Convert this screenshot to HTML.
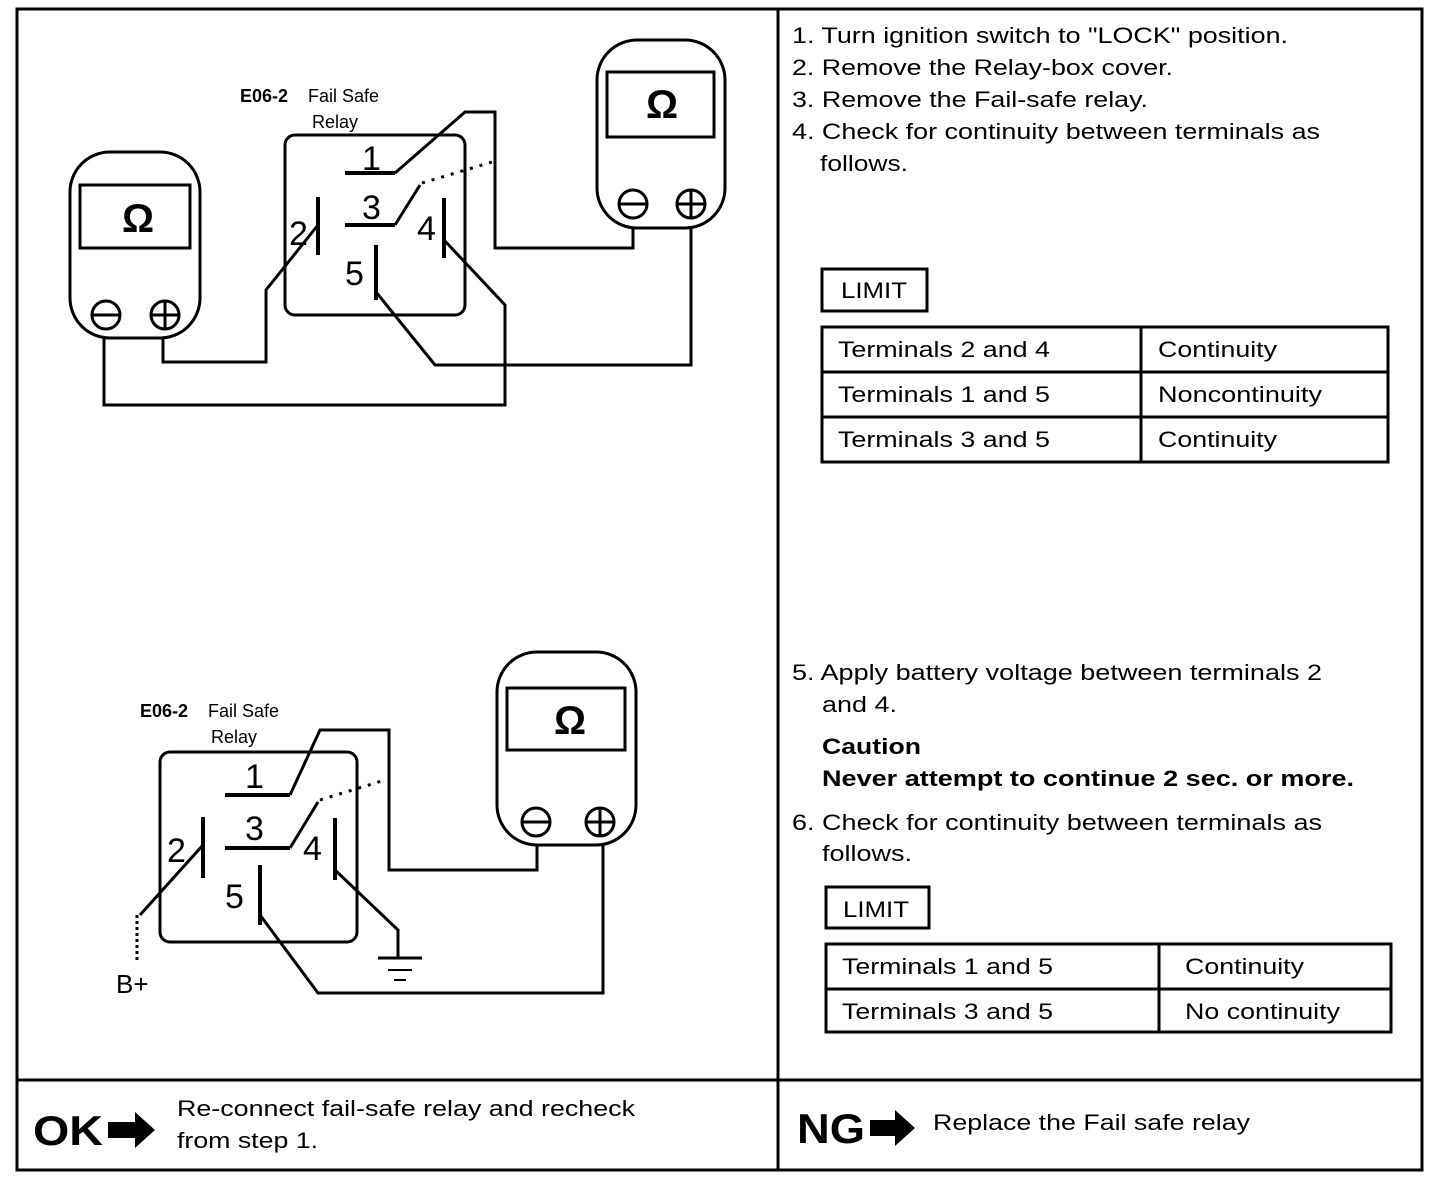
<!DOCTYPE html>
<html><head><meta charset="utf-8"><style>
body{margin:0;background:#fff}
svg{display:block}
text{font-family:"Liberation Sans",sans-serif;fill:#000}
</style></head><body>
<svg width="1440" height="1180" viewBox="0 0 1440 1180" xmlns="http://www.w3.org/2000/svg">
<g fill="none" stroke="#000" stroke-width="3">
<rect x="17" y="9" width="1405" height="1161"/>
<line x1="778" y1="9" x2="778" y2="1170"/>
<line x1="17" y1="1080" x2="1422" y2="1080"/>
</g>
<!-- TOP DIAGRAM -->
<g fill="none" stroke="#000" stroke-width="3">
<rect x="70" y="152" width="130" height="186" rx="40"/>
<rect x="80" y="185" width="110" height="63"/>
<circle cx="106" cy="315" r="14"/><line x1="92" y1="315" x2="120" y2="315"/>
<circle cx="165" cy="315" r="14"/><line x1="151" y1="315" x2="179" y2="315"/><line x1="165" y1="301" x2="165" y2="329"/>
<rect x="597" y="40" width="128" height="188" rx="40"/>
<rect x="607" y="72" width="107" height="65"/>
<circle cx="633" cy="204" r="14"/><line x1="619" y1="204" x2="647" y2="204"/>
<circle cx="691" cy="204" r="14"/><line x1="677" y1="204" x2="705" y2="204"/><line x1="691" y1="190" x2="691" y2="218"/>
<rect x="285" y="135" width="180" height="180" rx="10"/>
<line x1="345" y1="173" x2="395" y2="173" stroke-width="4"/>
<line x1="345" y1="225" x2="395" y2="225" stroke-width="4"/>
<line x1="318" y1="197" x2="318" y2="255" stroke-width="4"/>
<line x1="444" y1="198" x2="444" y2="258" stroke-width="4"/>
<line x1="376" y1="245" x2="376" y2="300" stroke-width="4"/>
<polyline points="104,338 104,405 505,405 505,305 444,240"/>
<polyline points="163,338 163,362 266,362 266,290 318,225"/>
<polyline points="633,228 633,248 495,248 495,112 465,112 395,173"/>
<polyline points="691,228 691,365 435,365 376,292"/>
<line x1="395" y1="225" x2="420" y2="185"/>
<line x1="422" y1="183" x2="492" y2="162" stroke-dasharray="3,7"/>
</g>
<text x="138" y="232" font-size="40" font-weight="bold" text-anchor="middle">Ω</text>
<text x="662" y="118" font-size="40" font-weight="bold" text-anchor="middle">Ω</text>
<text x="240" y="102" font-size="18" font-weight="bold">E06-2</text>
<text x="308" y="102" font-size="18">Fail Safe</text>
<text x="335" y="128" font-size="18" text-anchor="middle">Relay</text>
<g font-size="34">
<text x="362" y="170">1</text><text x="362" y="219">3</text>
<text x="289" y="245">2</text><text x="417" y="240">4</text><text x="345" y="285">5</text>
</g>
<!-- BOTTOM DIAGRAM -->
<g fill="none" stroke="#000" stroke-width="3">
<rect x="497" y="652" width="139" height="193" rx="40"/>
<rect x="507" y="688" width="118" height="62"/>
<circle cx="536" cy="822" r="14"/><line x1="522" y1="822" x2="550" y2="822"/>
<circle cx="600" cy="822" r="14"/><line x1="586" y1="822" x2="614" y2="822"/><line x1="600" y1="808" x2="600" y2="836"/>
<rect x="160" y="752" width="197" height="190" rx="10"/>
<line x1="225" y1="795" x2="290" y2="795" stroke-width="4"/>
<line x1="225" y1="848" x2="290" y2="848" stroke-width="4"/>
<line x1="203" y1="817" x2="203" y2="878" stroke-width="4"/>
<line x1="335" y1="818" x2="335" y2="880" stroke-width="4"/>
<line x1="260" y1="865" x2="260" y2="925" stroke-width="4"/>
<polyline points="290,795 320,730 389,730 389,870 537,870 537,845"/>
<polyline points="260,915 318,993 603,993 603,845"/>
<polyline points="335,870 398,930 398,957"/>
<line x1="378" y1="958" x2="422" y2="958"/>
<line x1="388" y1="970" x2="412" y2="970" stroke-width="2"/>
<line x1="394" y1="980" x2="406" y2="980" stroke-width="2"/>
<polyline points="203,845 140,915"/>
<line x1="137" y1="915" x2="137" y2="962" stroke-dasharray="3,3"/>
<line x1="290" y1="848" x2="318" y2="802"/>
<line x1="320" y1="800" x2="385" y2="780" stroke-dasharray="3,7"/>
</g>
<text x="570" y="734" font-size="40" font-weight="bold" text-anchor="middle">Ω</text>
<text x="140" y="717" font-size="18" font-weight="bold">E06-2</text>
<text x="208" y="717" font-size="18">Fail Safe</text>
<text x="234" y="743" font-size="18" text-anchor="middle">Relay</text>
<g font-size="34">
<text x="245" y="788">1</text><text x="245" y="840">3</text>
<text x="167" y="862">2</text><text x="303" y="860">4</text><text x="225" y="908">5</text>
</g>
<text x="116" y="993" font-size="26">B+</text>
<!-- RIGHT TEXT -->
<g font-size="22">
<text x="792" y="43" textLength="496" lengthAdjust="spacingAndGlyphs">1. Turn ignition switch to "LOCK" position.</text>
<text x="792" y="75" textLength="381" lengthAdjust="spacingAndGlyphs">2. Remove the Relay-box cover.</text>
<text x="792" y="107" textLength="356" lengthAdjust="spacingAndGlyphs">3. Remove the Fail-safe relay.</text>
<text x="792" y="139" textLength="528" lengthAdjust="spacingAndGlyphs">4. Check for continuity between terminals as</text>
<text x="820" y="171" textLength="88" lengthAdjust="spacingAndGlyphs">follows.</text>
<text x="792" y="680" textLength="530" lengthAdjust="spacingAndGlyphs">5. Apply battery voltage between terminals 2</text>
<text x="822" y="712" textLength="75" lengthAdjust="spacingAndGlyphs">and 4.</text>
<text x="822" y="754" font-weight="bold" textLength="99" lengthAdjust="spacingAndGlyphs">Caution</text>
<text x="822" y="786" font-weight="bold" textLength="532" lengthAdjust="spacingAndGlyphs">Never attempt to continue 2 sec. or more.</text>
<text x="792" y="830" textLength="530" lengthAdjust="spacingAndGlyphs">6. Check for continuity between terminals as</text>
<text x="822" y="861" textLength="90" lengthAdjust="spacingAndGlyphs">follows.</text>
</g>
<g fill="none" stroke="#000" stroke-width="3">
<rect x="822" y="269" width="105" height="42"/>
<rect x="822" y="327" width="566" height="135"/>
<line x1="822" y1="372" x2="1388" y2="372"/><line x1="822" y1="417" x2="1388" y2="417"/>
<line x1="1141" y1="327" x2="1141" y2="462"/>
<rect x="826" y="887" width="103" height="41"/>
<rect x="826" y="944" width="565" height="88"/>
<line x1="826" y1="989" x2="1391" y2="989"/>
<line x1="1159" y1="944" x2="1159" y2="1032"/>
</g>
<g font-size="22">
<text x="841" y="298" textLength="66" lengthAdjust="spacingAndGlyphs">LIMIT</text>
<text x="838" y="357" textLength="212" lengthAdjust="spacingAndGlyphs">Terminals 2 and 4</text><text x="1158" y="357" textLength="119" lengthAdjust="spacingAndGlyphs">Continuity</text>
<text x="838" y="402" textLength="212" lengthAdjust="spacingAndGlyphs">Terminals 1 and 5</text><text x="1158" y="402" textLength="164" lengthAdjust="spacingAndGlyphs">Noncontinuity</text>
<text x="838" y="447" textLength="212" lengthAdjust="spacingAndGlyphs">Terminals 3 and 5</text><text x="1158" y="447" textLength="119" lengthAdjust="spacingAndGlyphs">Continuity</text>
<text x="843" y="917" textLength="66" lengthAdjust="spacingAndGlyphs">LIMIT</text>
<text x="842" y="974" textLength="211" lengthAdjust="spacingAndGlyphs">Terminals 1 and 5</text><text x="1185" y="974" textLength="119" lengthAdjust="spacingAndGlyphs">Continuity</text>
<text x="842" y="1019" textLength="211" lengthAdjust="spacingAndGlyphs">Terminals 3 and 5</text><text x="1185" y="1019" textLength="155" lengthAdjust="spacingAndGlyphs">No continuity</text>
</g>
<!-- BOTTOM ROW -->
<text x="33" y="1145" font-size="42" font-weight="bold" textLength="70" lengthAdjust="spacingAndGlyphs">OK</text>
<polygon points="108,1122 135,1122 135,1112 155,1130 135,1148 135,1138 108,1138" fill="#000"/>
<text x="177" y="1116" font-size="22" textLength="458" lengthAdjust="spacingAndGlyphs">Re-connect fail-safe relay and recheck</text>
<text x="177" y="1148" font-size="22" textLength="141" lengthAdjust="spacingAndGlyphs">from step 1.</text>
<text x="797" y="1143" font-size="42" font-weight="bold" textLength="68" lengthAdjust="spacingAndGlyphs">NG</text>
<polygon points="870,1120 895,1120 895,1110 915,1128 895,1146 895,1136 870,1136" fill="#000"/>
<text x="933" y="1130" font-size="22" textLength="317" lengthAdjust="spacingAndGlyphs">Replace the Fail safe relay</text>
</svg>
</body></html>
